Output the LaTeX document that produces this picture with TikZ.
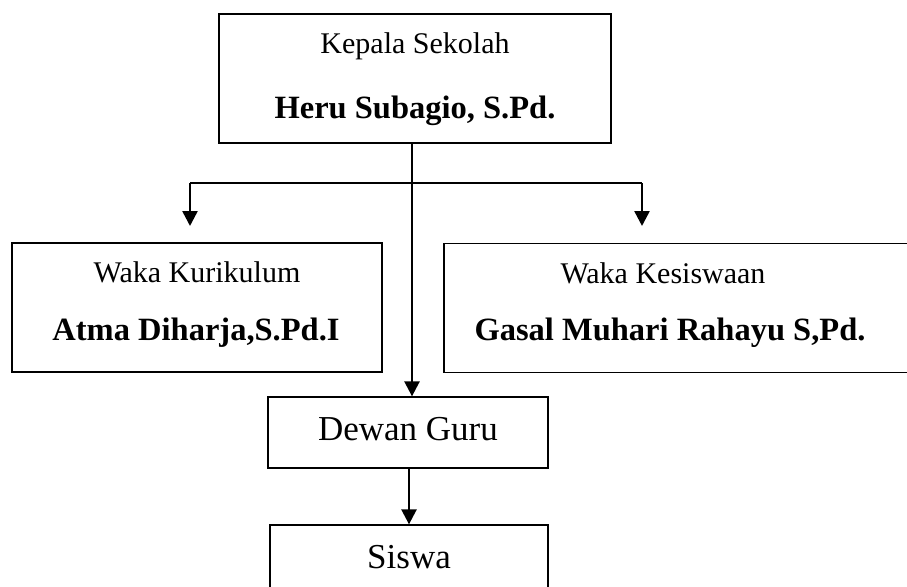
\documentclass[tikz,border=0pt]{standalone}
\usepackage{fontspec}
\setmainfont{Liberation Serif}
\usetikzlibrary{arrows.meta}
\begin{document}
\begin{tikzpicture}[x=1pt,y=-1pt,
  box/.style={draw,line width=1.3pt,rectangle,inner sep=0pt},
  conn/.style={line width=2.5pt},
  arr/.style={conn,-{Triangle[width=15pt,length=15pt]}},
  lbl/.style={anchor=base,inner sep=0pt,font=\fontsize{30}{36}\selectfont},
  nm/.style={anchor=base,inner sep=0pt,font=\fontsize{32.5}{38}\selectfont\bfseries},
  big/.style={anchor=base,inner sep=0pt,font=\fontsize{35}{42}\selectfont}]
\useasboundingbox (0,0) rectangle (907,586);
% boxes
\node[box,minimum width=392pt,minimum height=129pt] (top) at (415,78.5) {};
\node[box,minimum width=370pt,minimum height=129pt] (left) at (197,307.5) {};
\node[box,minimum width=468pt,minimum height=129pt] (right) at (678,308) {};
\node[box,minimum width=280pt,minimum height=71pt] (dewan) at (408,432.5) {};
\node[box,minimum width=278pt,minimum height=80pt] (siswa) at (409,565) {};
% texts
\node[lbl] (t1) at (415,53) {Kepala Sekolah};
\node[nm] (t2) at (415,118) {Heru Subagio, S.Pd.};
\node[lbl] (l1) at (197,282) {Waka Kurikulum};
\node[nm] (l2) at (196,340) {Atma Diharja,S.Pd.I};
\node[lbl] (r1) at (663,283) {Waka Kesiswaan};
\node[nm] (r2) at (670,340) {Gasal Muhari Rahayu S,Pd.};
\node[big] (d1) at (408,440) {Dewan Guru};
\node[big] (s1) at (409,568) {Siswa};
% connectors
\coordinate (j) at (412,183);
\coordinate (jl) at (190,183);
\coordinate (jr) at (642,183);
\coordinate (el) at (190,226);
\coordinate (er) at (642,226);
\draw[conn] (jl) -- (jr);
\draw[arr] (top.south -| j) -- (dewan.north -| j);
\draw[arr] (jl) -- (el);
\draw[arr] (jr) -- (er);
\draw[arr] (dewan.south -| siswa.north) -- (siswa.north);
\end{tikzpicture}
\end{document}
